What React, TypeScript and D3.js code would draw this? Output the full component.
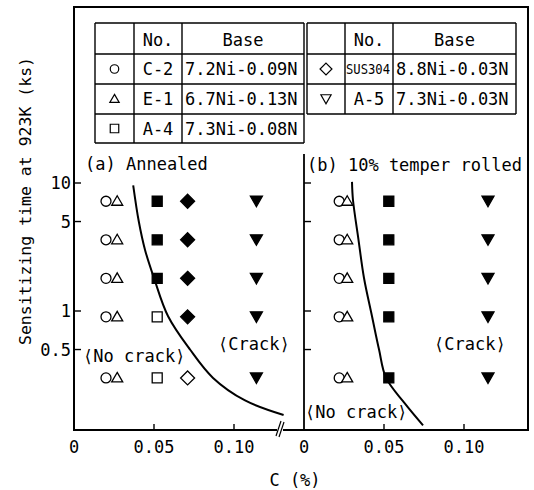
import * as d3 from "d3";

// sensitizing times (ks) of the test rows
const rowTimes = [7.2, 3.6, 1.8, 0.9, 0.3];

// (a) annealed
const annealedShapes = ["circle", "triangle", "square", "diamond", "invTriangle"];
const annealedC = [0.02, 0.027, 0.052, 0.071, 0.114];
const annealedFilled = [
  [0, 0, 0, 0, 0],
  [0, 0, 0, 0, 0],
  [1, 1, 1, 0, 0],
  [1, 1, 1, 1, 0],
  [1, 1, 1, 1, 1],
];
const annealedCurveC = [0.037, 0.0405, 0.0444, 0.05, 0.0588, 0.0725, 0.0869, 0.1069, 0.131];
const annealedCurveT = [9.6, 5, 3.0, 1.81, 0.91, 0.5, 0.3, 0.2, 0.154];

// (b) 10% temper rolled
const rolledShapes = ["circle", "triangle", "square", "invTriangle"];
const rolledC = [0.022, 0.027, 0.053, 0.115];
const rolledFilled = [
  [0, 0, 0, 0, 0],
  [0, 0, 0, 0, 0],
  [1, 1, 1, 1, 1],
  [1, 1, 1, 1, 1],
];
const rolledCurveC = [0.03, 0.0306, 0.034, 0.0375, 0.0425, 0.0469, 0.0513, 0.063, 0.0744];
const rolledCurveT = [10.2, 7.4, 3.65, 1.81, 0.91, 0.5, 0.3, 0.19, 0.128];

const cTicks = [0, 0.05, 0.1];
const cTickLabels = ["0", "0.05", "0.10"];
const tTicks = [10, 5, 1, 0.5];
const tTickLabels = ["10", "5", "1", "0.5"];

// legend table
const legendShapesL = ["circle", "triangle", "square"];
const legendNoL = ["C-2", "E-1", "A-4"];
const legendBaseL = ["7.2Ni-0.09N", "6.7Ni-0.13N", "7.3Ni-0.08N"];
const legendShapesR = ["diamond", "invTriangle"];
const legendNoR = ["SUS304", "A-5"];
const legendBaseR = ["8.8Ni-0.03N", "7.3Ni-0.03N"];

const FONT = "'DejaVu Sans Mono', monospace";

function shapePath(shape: string, k = 1) {
  const p = d3.path();
  if (shape === "circle") {
    p.arc(0, 0, 5 * k, 0, Math.PI * 2);
  } else if (shape === "triangle") {
    p.moveTo(0, -5.5 * k); p.lineTo(5.5 * k, 4 * k); p.lineTo(-5.5 * k, 4 * k); p.closePath();
  } else if (shape === "invTriangle") {
    p.moveTo(-6 * k, -5 * k); p.lineTo(6 * k, -5 * k); p.lineTo(0, 5.5 * k); p.closePath();
  } else if (shape === "square") {
    p.rect(-5 * k, -5 * k, 10 * k, 10 * k);
  } else {
    p.moveTo(0, -7 * k); p.lineTo(7 * k, 0); p.lineTo(0, 7 * k); p.lineTo(-7 * k, 0); p.closePath();
  }
  return p.toString();
}

export default function App() {
  const y = d3.scaleLog().domain([1, 10]).range([311, 183]);
  const xA = d3.scaleLinear().domain([0, 0.1]).range([74, 234]);
  const xB = d3.scaleLinear().domain([0, 0.1]).range([304, 464]);
  const axisY = 430;

  const line = (xs: d3.ScaleLinear<number, number>) =>
    d3.line<[number, number]>()
      .x(d => xs(d[0]))
      .y(d => y(d[1]))
      .curve(d3.curveCatmullRom);

  const curveA = line(xA)(annealedCurveC.map((c, i) => [c, annealedCurveT[i]]));
  const curveB = line(xB)(rolledCurveC.map((c, i) => [c, rolledCurveT[i]]));

  const markers = (shapes: string[], cs: number[], filled: number[][], xs: d3.ScaleLinear<number, number>) =>
    shapes.map((s, si) =>
      rowTimes.map((t, ti) => (
        <path
          key={s + ti}
          d={shapePath(s)}
          transform={`translate(${xs(cs[si])},${y(t)})`}
          fill={filled[si][ti] ? "#000" : "#fff"}
          stroke="#000"
          strokeWidth={1.3}
        />
      ))
    );

  const colsL = [95, 134, 182, 304];
  const colsR = [307, 345, 393, 516];
  const rows = [23, 54, 84, 114, 143];

  const table = (cols: number[], shapes: string[], nos: string[], bases: string[]) => {
    const bottom = rows[shapes.length + 1];
    return (
      <g>
        {rows.slice(0, shapes.length + 2).map(r => (
          <line key={"r" + r} x1={cols[0]} x2={cols[3]} y1={r} y2={r} stroke="#000" strokeWidth={1.4} />
        ))}
        {cols.map(c => (
          <line key={"c" + c} x1={c} x2={c} y1={rows[0]} y2={bottom} stroke="#000" strokeWidth={1.4} />
        ))}
        <text x={(cols[1] + cols[2]) / 2} y={46} textAnchor="middle">No.</text>
        <text x={(cols[2] + cols[3]) / 2} y={46} textAnchor="middle">Base</text>
        {shapes.map((s, i) => {
          const cy = (rows[i + 1] + rows[i + 2]) / 2;
          const w = cols[2] - cols[1];
          return (
            <g key={s}>
              <path d={shapePath(s, 0.85)} transform={`translate(${(cols[0] + cols[1]) / 2},${cy})`} fill="#fff" stroke="#000" strokeWidth={1.2} />
              {nos[i].length > 4 ? (
                <text x={cols[1] + 1} y={cy + 5} fontSize={14} textLength={w - 4} lengthAdjust="spacingAndGlyphs">{nos[i]}</text>
              ) : (
                <text x={(cols[1] + cols[2]) / 2} y={cy + 6} textAnchor="middle">{nos[i]}</text>
              )}
              <text x={cols[2] + 3} y={cy + 6}>{bases[i]}</text>
            </g>
          );
        })}
      </g>
    );
  };

  return (
    <svg width={534} height={490} style={{ position: "absolute", left: 0, top: 0, background: "#fff" }}
      fontFamily={FONT} fontSize={17} fill="#000">
      {/* outer frame */}
      <rect x={74} y={7} width={454} height={axisY - 7} fill="none" stroke="#000" strokeWidth={2} />

      {table(colsL, legendShapesL, legendNoL, legendBaseL)}
      {table(colsR, legendShapesR, legendNoR, legendBaseR)}

      {/* panel divider */}
      <line x1={304} x2={304} y1={154} y2={axisY} stroke="#000" strokeWidth={1.8} />

      {/* y ticks */}
      {tTicks.map((t, i) => (
        <g key={"yt" + t}>
          <line x1={74} x2={81} y1={y(t)} y2={y(t)} stroke="#000" strokeWidth={1.4} />
          <line x1={304} x2={311} y1={y(t)} y2={y(t)} stroke="#000" strokeWidth={1.4} />
          <text x={71} y={y(t) + 6} textAnchor="end">{tTickLabels[i]}</text>
        </g>
      ))}

      {/* x ticks */}
      {[xA, xB].map((xs, pi) =>
        cTicks.map((c, i) => (
          <g key={"xt" + pi + c}>
            {c > 0 && <line x1={xs(c)} x2={xs(c)} y1={axisY} y2={axisY - 6} stroke="#000" strokeWidth={1.4} />}
            <text x={xs(c)} y={453} textAnchor="middle">{cTickLabels[i]}</text>
          </g>
        ))
      )}

      {/* axis break */}
      <rect x={277} y={426} width={6} height={8} fill="#fff" />
      <line x1={276} x2={281} y1={436} y2={421} stroke="#000" strokeWidth={1.2} />
      <line x1={279} x2={284} y1={437} y2={422} stroke="#000" strokeWidth={1.2} />

      {/* boundary curves */}
      <path d={curveA ?? ""} fill="none" stroke="#000" strokeWidth={2} />
      <path d={curveB ?? ""} fill="none" stroke="#000" strokeWidth={2} />

      {markers(annealedShapes, annealedC, annealedFilled, xA)}
      {markers(rolledShapes, rolledC, rolledFilled, xB)}

      {/* annotations */}
      <text x={85} y={170}>(a) Annealed</text>
      <text x={307} y={171}>(b) 10% temper rolled</text>
      <text x={83} y={362}>⟨No crack⟩</text>
      <text x={218} y={350}>⟨Crack⟩</text>
      <text x={434} y={350}>⟨Crack⟩</text>
      <text x={305} y={418}>⟨No crack⟩</text>

      {/* axis titles */}
      <text x={295} y={486} textAnchor="middle">C (%)</text>
      <text transform="translate(31,201) rotate(-90)" textAnchor="middle" fontSize={16.5}>
        Sensitizing time at 923K (ks)
      </text>
    </svg>
  );
}
